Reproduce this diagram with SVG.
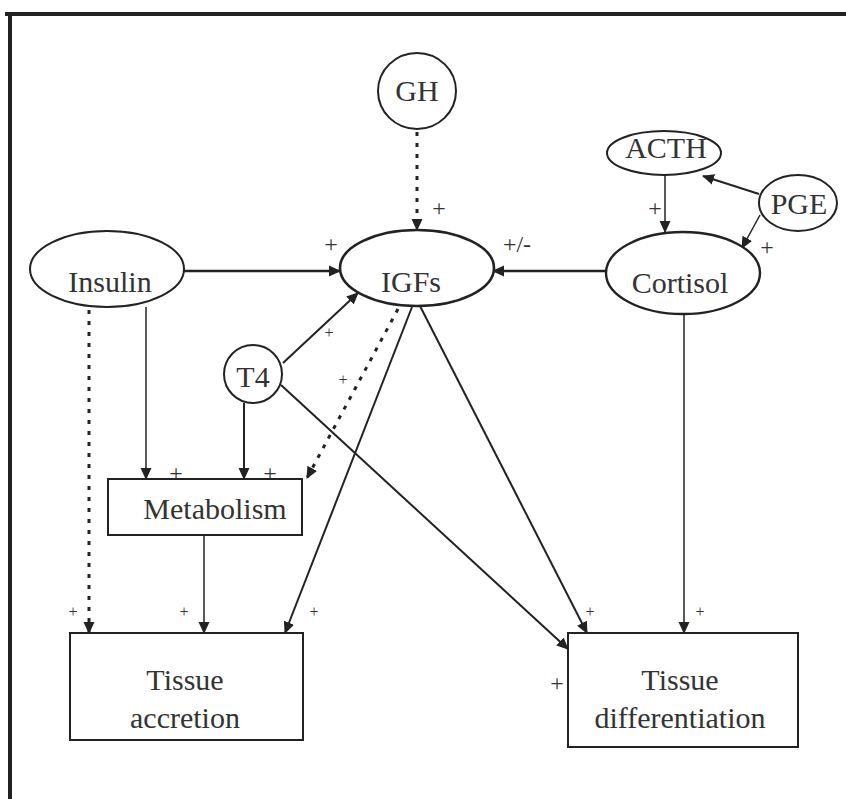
<svg xmlns="http://www.w3.org/2000/svg" width="846" height="799" viewBox="0 0 846 799">
<defs>
<marker id="ah" markerUnits="userSpaceOnUse" markerWidth="12" markerHeight="12" refX="11" refY="6" orient="auto" viewBox="0 0 12 12">
<path d="M0,0.5 L12,6 L0,11.5 z" fill="#222"/>
</marker>
</defs>
<style>
.n{fill:#fff;stroke:#222;stroke-width:2}
.t{font-family:"Liberation Serif","Times New Roman",serif;font-size:30px;fill:#333;text-anchor:middle}
.c{fill:none;stroke:#222;stroke-width:2}
.thin{stroke-width:1.5}
.thick{stroke-width:2.6}
.dot{stroke-dasharray:4 7;stroke-width:3}
.p{font-family:"Liberation Serif","Times New Roman",serif;font-size:24px;fill:#333;text-anchor:middle}
.ps{font-family:"Liberation Serif","Times New Roman",serif;font-size:16px;fill:#333;text-anchor:middle}
</style>
<rect width="846" height="799" fill="#fff"/>
<g id="frame">
<line x1="5" y1="14" x2="846" y2="14" stroke="#222" stroke-width="4"/>
<line x1="10" y1="12" x2="10" y2="799" stroke="#222" stroke-width="4"/>
</g>
<g id="connectors">
<line class="c dot" x1="417" y1="132" x2="417" y2="230" marker-end="url(#ah)"/>
<line class="c thick" x1="184" y1="271" x2="340" y2="271" marker-end="url(#ah)"/>
<line class="c thick" x1="606" y1="271" x2="493" y2="271" marker-end="url(#ah)"/>
<line class="c thin" x1="665" y1="175" x2="665" y2="232" marker-end="url(#ah)"/>
<line class="c" x1="759" y1="194" x2="703" y2="176" marker-end="url(#ah)"/>
<line class="c thin" x1="760" y1="215" x2="742" y2="248" marker-end="url(#ah)"/>
<line class="c" x1="283" y1="363" x2="358" y2="293" marker-end="url(#ah)"/>
<line class="c thin" x1="146" y1="307" x2="146" y2="479" marker-end="url(#ah)"/>
<line class="c" x1="244" y1="403" x2="244" y2="479" marker-end="url(#ah)"/>
<line class="c dot" x1="398" y1="309" x2="307" y2="478" marker-end="url(#ah)"/>
<line class="c dot" x1="89" y1="310" x2="89" y2="633" marker-end="url(#ah)"/>
<line class="c thin" x1="204" y1="535" x2="204" y2="633" marker-end="url(#ah)"/>
<line class="c" x1="412" y1="307" x2="285" y2="633" marker-end="url(#ah)"/>
<line class="c" x1="420" y1="306" x2="587" y2="633" marker-end="url(#ah)"/>
<line class="c" x1="281" y1="385" x2="568" y2="649" marker-end="url(#ah)"/>
<line class="c thin" x1="684" y1="315" x2="684" y2="633" marker-end="url(#ah)"/>
<text class="p" x="439" y="216">+</text>
<text class="p" x="331" y="252">+</text>
<text class="p" x="517" y="252">+/-</text>
<text class="p" x="655" y="216">+</text>
<text class="p" x="767" y="255">+</text>
<text class="ps" x="329" y="338">+</text>
<text class="ps" x="343" y="385">+</text>
<text class="p" x="176" y="481">+</text>
<text class="p" x="270" y="481">+</text>
<text class="ps" x="73" y="617">+</text>
<text class="ps" x="184" y="617">+</text>
<text class="ps" x="314" y="617">+</text>
<text class="ps" x="590" y="617">+</text>
<text class="ps" x="700" y="617">+</text>
<text class="p" x="557" y="691">+</text>
</g>
<g id="GH"><ellipse class="n" cx="417" cy="91" rx="39" ry="38"/><text class="t" x="417" y="101">GH</text></g>
<g id="IGFs"><ellipse class="n thick" cx="417" cy="268" rx="77" ry="38" style="stroke-width:2.6"/><text class="t" x="411" y="292">IGFs</text></g>
<g id="Insulin"><ellipse class="n" cx="107" cy="269" rx="77" ry="38"/><text class="t" x="110" y="292">Insulin</text></g>
<g id="Cortisol"><ellipse class="n" cx="683" cy="273" rx="77" ry="41" style="stroke-width:2.4"/><text class="t" x="680" y="293">Cortisol</text></g>
<g id="ACTH"><ellipse class="n" cx="664" cy="153" rx="57" ry="22"/><text class="t" x="666" y="158">ACTH</text></g>
<g id="PGE"><ellipse class="n" cx="798" cy="203" rx="39" ry="28"/><text class="t" x="799" y="214">PGE</text></g>
<g id="T4"><circle class="n" cx="253" cy="374" r="29"/><text class="t" x="253" y="387">T4</text></g>
<g id="Metabolism"><rect class="n" x="108" y="479" width="194" height="56"/><text class="t" x="215" y="519">Metabolism</text></g>
<g id="TissueAccretion"><rect class="n" x="70" y="633" width="233" height="107"/><text class="t" x="185" y="690">Tissue</text><text class="t" x="185" y="728">accretion</text></g>
<g id="TissueDifferentiation"><rect class="n" x="568" y="633" width="230" height="114"/><text class="t" x="680" y="690">Tissue</text><text class="t" x="680" y="728">differentiation</text></g>
</svg>
